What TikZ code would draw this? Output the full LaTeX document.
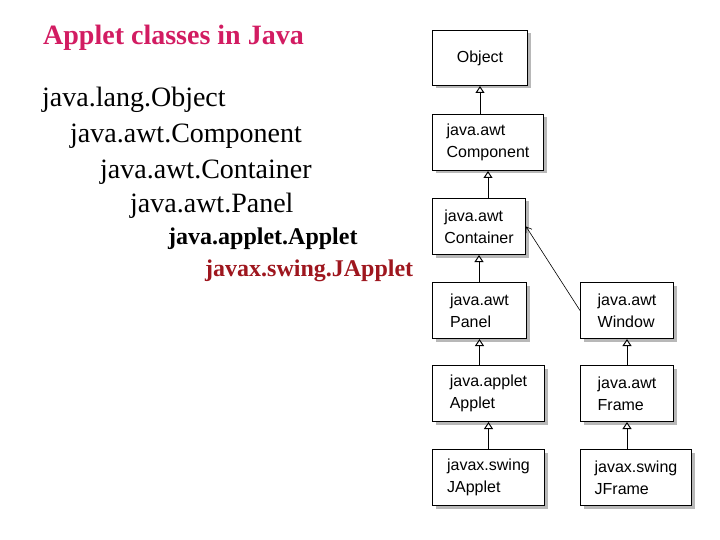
\documentclass[tikz,border=0pt]{standalone}
\usepackage{fontspec}
\setmainfont{Liberation Serif}
\newfontfamily\boxfont{Liberation Sans}
\usetikzlibrary{arrows.meta,shadows}
\definecolor{titlepink}{RGB}{210,28,98}
\definecolor{swingred}{RGB}{158,22,30}

\begin{document}
\begin{tikzpicture}[x=1pt,y=-1pt,
    cls/.style={draw,line width=1pt,fill=white,anchor=north west,inner sep=0pt,align=left,
      font=\boxfont\fontsize{16}{22}\selectfont,
      drop shadow={shadow xshift=3pt,shadow yshift=-3pt,fill=black!28,opacity=1}},
    inh/.style={line width=1pt,-{Triangle[open,fill=white,length=7pt,width=9pt]}},
    lst/.style={anchor=base west,inner sep=0pt,font=\fontsize{28}{32}\selectfont},
    bold lst/.style={lst,font=\bfseries\fontsize{24}{28}\selectfont}]
  \useasboundingbox (0,0) rectangle (720,540);
  % the list on the left
  \node[lst,font=\bfseries\fontsize{28}{32}\selectfont,text=titlepink] (title) at (43,45) {Applet classes in Java};
  \node[lst] (lobject) at (42,107) {java.lang.Object};
  \node[lst] (lcomponent) at (70,143) {java.awt.Component};
  \node[lst] (lcontainer) at (100,179) {java.awt.Container};
  \node[lst] (lpanel) at (130,213) {java.awt.Panel};
  \node[bold lst] (lapplet) at (168,244) {java.applet.Applet};
  \node[bold lst,text=swingred] (ljapplet) at (205,276) {javax.swing.JApplet};
  % class boxes
  \node[cls,minimum width=95,minimum height=55] (object) at (432,30) {Object};
  \node[cls,minimum width=111,minimum height=56] (component) at (432,114) {java.awt\\Component};
  \node[cls,minimum width=93,minimum height=56] (container) at (432,198) {java.awt\\Container};
  \node[cls,minimum width=94,minimum height=56] (panel) at (432,282) {java.awt\\Panel};
  \node[cls,minimum width=93,minimum height=56] (window) at (580,282) {java.awt\\Window};
  \node[cls,minimum width=112,minimum height=56] (applet) at (432,365) {java.applet\\Applet};
  \node[cls,minimum width=93,minimum height=56] (frame) at (580,365) {java.awt\\Frame};
  \node[cls,minimum width=112,minimum height=56] (japplet) at (432,449) {javax.swing\\JApplet};
  \node[cls,minimum width=111,minimum height=56] (jframe) at (580,449) {javax.swing\\JFrame};
  % inheritance
  \draw[inh] (component.north -| object.south) -- (object.south);
  \draw[inh] (container.north -| component.south) -- (component.south);
  \draw[inh] (panel.north -| container.south) -- (container.south);
  \draw[inh] (applet.north -| panel.south) -- (panel.south);
  \draw[inh] (japplet.north -| applet.south) -- (applet.south);
  \draw[inh] (frame.north -| window.south) -- (window.south);
  \draw[inh] (jframe.north -| frame.south) -- (frame.south);
  \draw[line width=0.6pt,-{Straight Barb[length=5pt,width=7pt]}] (window.west) -- (container.east);
\end{tikzpicture}
\end{document}
